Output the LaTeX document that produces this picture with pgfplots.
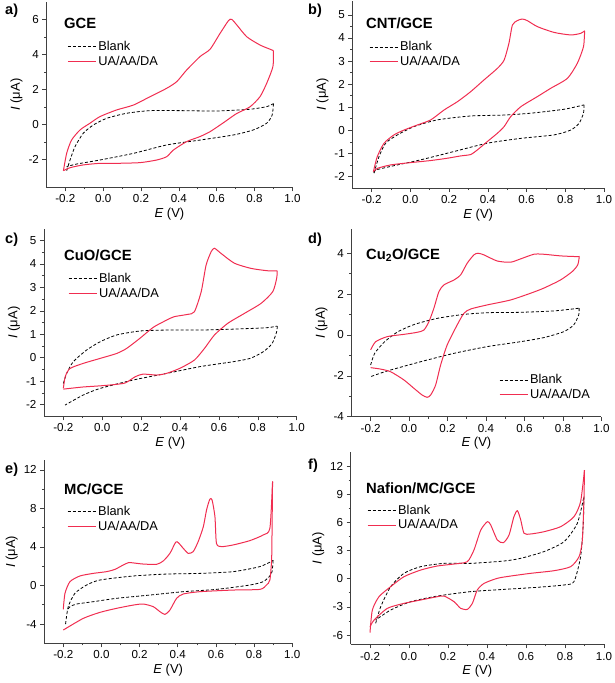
\documentclass[border=0pt]{standalone}
\usepackage{fontspec}
\setmainfont{Liberation Sans}
\usepackage{pgfplots}
\pgfplotsset{compat=1.18}
\definecolor{cvred}{RGB}{240,45,80}
\pgfplotsset{
  cv/.style={
    scale only axis, anchor=south west,
    axis lines=left, axis line style={-, black!75, line width=0.6pt},
    tick style={black!75, line width=0.6pt}, tick align=outside,
    major tick length=4pt, minor tick length=2pt,
    minor x tick num=1, minor y tick num=1,
    xmin=-0.3, xmax=1.0, xtick={-0.2,0,0.2,0.4,0.6,0.8,1.0},
    x tick label style={/pgf/number format/.cd, fixed, fixed zerofill, precision=1},
    /pgf/number format/assume math mode=true,
    ticklabel style={font=\fontsize{11.6}{13}\selectfont},
    xlabel={\textit{E} (V)}, ylabel={\textit{I} (μA)},
    label style={font=\fontsize{13}{15}\selectfont},
    xlabel style={yshift=2pt}, ylabel style={yshift=-1pt},
    legend style={draw=none, fill=none, anchor=north west, inner sep=0pt,
      font=\fontsize{12.8}{14}\selectfont, row sep=0pt},
    legend cell align=left,
    legend image code/.code={\draw[#1] (0pt,0pt) -- (28pt,0pt);},
  },
  blank/.style={black, line width=0.8pt, dash pattern=on 3pt off 2pt, smooth, tension=0.4},
  ua/.style={cvred, line width=1pt, smooth, tension=0.4},
}
\begin{document}
\begin{tikzpicture}
\useasboundingbox (0,0) rectangle (614pt,-683pt);

% a) GCE
\begin{axis}[cv, at={(46.4pt,-187.3pt)}, width=246pt, height=185.5pt,
  ymin=-3.6, ymax=7, ytick={-2,0,2,4,6},
  legend style={at={(0.084,0.80)}}]
\addplot[blank] coordinates {(-0.193,-2.65) (-0.175,-2.04) (-0.149,-1.28) (-0.105,-0.51) (-0.052,-0.04) (0.018,0.34) (0.124,0.63) (0.248,0.78) (0.424,0.78) (0.6,0.76) (0.776,0.86) (0.864,1.01) (0.9,1.18)};
\addlegendentry{Blank}
\addplot[ua] coordinates {(-0.21,-2.65) (-0.193,-1.66) (-0.167,-0.9) (-0.122,-0.32) (-0.07,0.06) (-0.017,0.44) (0.071,0.82) (0.16,1.10) (0.248,1.58) (0.336,2.06) (0.389,2.44) (0.441,3.1) (0.512,3.87) (0.565,4.29) (0.618,5.2) (0.662,5.92) (0.679,6.0) (0.706,5.68) (0.759,5.0) (0.829,4.53) (0.882,4.29) (0.9,4.21)};
\addlegendentry{UA/AA/DA}
\addplot[blank, forget plot] coordinates {(0.9,1.18) (0.893,0.53) (0.864,0.06) (0.794,-0.32) (0.688,-0.61) (0.512,-0.9) (0.336,-1.18) (0.16,-1.66) (-0.017,-2.04) (-0.14,-2.27) (-0.193,-2.42)};
\addplot[ua, forget plot] coordinates {(0.9,4.21) (0.897,3.3) (0.864,2.34) (0.829,1.58) (0.776,1.0) (0.706,0.62) (0.65,0.2) (0.618,-0.04) (0.565,-0.42) (0.512,-0.7) (0.441,-0.99) (0.371,-1.47) (0.336,-1.85) (0.283,-2.04) (0.195,-2.19) (0.071,-2.23) (-0.017,-2.23) (-0.105,-2.32) (-0.175,-2.48) (-0.21,-2.65)};
\end{axis}

% b) CNT/GCE
\begin{axis}[cv, at={(352.3pt,-188pt)}, width=251.7pt, height=187pt,
  ymin=-2.5, ymax=5.6, ytick={-2,-1,0,1,2,3,4,5},
  legend style={at={(0.066,0.795)}}]
\addplot[blank] coordinates {(-0.188,-1.86) (-0.162,-1.14) (-0.128,-0.56) (-0.067,-0.2) (0.019,0.16) (0.139,0.45) (0.311,0.62) (0.484,0.66) (0.621,0.74) (0.793,0.91) (0.897,1.1)};
\addlegendentry{Blank}
\addplot[ua] coordinates {(-0.191,-1.79) (-0.171,-1.14) (-0.136,-0.56) (-0.085,-0.2) (-0.033,0.01) (0.036,0.23) (0.105,0.45) (0.174,0.88) (0.243,1.24) (0.311,1.67) (0.38,2.18) (0.449,2.68) (0.484,3.04) (0.509,3.77) (0.527,4.56) (0.552,4.75) (0.578,4.82) (0.604,4.75) (0.656,4.49) (0.742,4.24) (0.828,4.13) (0.88,4.2) (0.9,4.31)};
\addlegendentry{UA/AA/DA}
\addplot[blank, forget plot] coordinates {(0.897,1.1) (0.894,0.74) (0.871,0.3) (0.828,0.01) (0.742,-0.2) (0.57,-0.35) (0.397,-0.56) (0.225,-0.92) (0.053,-1.28) (-0.067,-1.5) (-0.179,-1.72) (-0.188,-1.86)};
\addplot[ua, forget plot] coordinates {(0.9,4.31) (0.894,3.62) (0.862,2.9) (0.811,2.25) (0.725,1.82) (0.656,1.46) (0.57,1.02) (0.518,0.59) (0.484,0.16) (0.449,-0.13) (0.397,-0.49) (0.346,-0.85) (0.311,-1.05) (0.26,-1.11) (0.191,-1.21) (0.105,-1.31) (0.001,-1.4) (-0.102,-1.5) (-0.171,-1.65) (-0.191,-1.79)};
\end{axis}

% c) CuO/GCE
\begin{axis}[cv, at={(43.9pt,-416.3pt)}, width=252.8pt, height=187.5pt,
  ymin=-2.5, ymax=5.5, ytick={-2,-1,0,1,2,3,4,5},
  legend style={at={(0.095,0.775)}}]
\addplot[blank] coordinates {(-0.2,-1.1) (-0.183,-0.67) (-0.149,-0.17) (-0.08,0.33) (-0.011,0.68) (0.074,0.97) (0.194,1.14) (0.331,1.18) (0.503,1.18) (0.674,1.22) (0.846,1.28) (0.9,1.35)};
\addlegendentry{Blank}
\addplot[ua] coordinates {(-0.2,-1.31) (-0.19,-0.8) (-0.166,-0.46) (-0.097,-0.24) (-0.011,-0.03) (0.074,0.18) (0.126,0.4) (0.194,0.83) (0.263,1.3) (0.33,1.6) (0.37,1.75) (0.44,1.85) (0.474,1.96) (0.509,2.82) (0.534,3.95) (0.56,4.52) (0.577,4.67) (0.611,4.45) (0.68,4.03) (0.766,3.81) (0.851,3.71) (0.9,3.71)};
\addlegendentry{UA/AA/DA}
\addplot[blank, forget plot] coordinates {(0.9,1.35) (0.897,1.11) (0.874,0.61) (0.829,0.26) (0.76,-0.03) (0.674,-0.17) (0.503,-0.38) (0.331,-0.67) (0.16,-0.95) (-0.011,-1.31) (-0.097,-1.59) (-0.191,-2.02)};
\addplot[ua, forget plot] coordinates {(0.9,3.71) (0.897,3.39) (0.877,2.82) (0.817,2.32) (0.731,1.89) (0.646,1.47) (0.577,0.97) (0.526,0.4) (0.474,-0.1) (0.4,-0.45) (0.33,-0.67) (0.28,-0.74) (0.21,-0.7) (0.17,-0.81) (0.12,-1.07) (0.07,-1.14) (-0.01,-1.2) (-0.1,-1.25) (-0.2,-1.34)};
\end{axis}

% d) Cu2O/GCE
\begin{axis}[cv, at={(351.4pt,-416.7pt)}, width=250pt, height=188pt,
  ymin=-4, ymax=5.2, ytick={-4,-2,0,2,4},
  legend style={at={(0.59,0.236)}}]
\addplot[blank] coordinates {(-0.2,-1.47) (-0.179,-0.9) (-0.127,-0.33) (-0.058,0.16) (0.029,0.52) (0.15,0.82) (0.289,1.01) (0.41,1.09) (0.583,1.11) (0.757,1.18) (0.884,1.31)};
\addlegendentry{Blank}
\addplot[ua] coordinates {(-0.2,-0.73) (-0.174,-0.33) (-0.113,-0.08) (-0.027,0.03) (0.042,0.13) (0.077,0.24) (0.103,0.65) (0.129,1.31) (0.155,2.12) (0.181,2.45) (0.233,2.69) (0.268,2.94) (0.302,3.51) (0.337,3.92) (0.358,4.0) (0.389,3.92) (0.458,3.62) (0.527,3.56) (0.579,3.72) (0.649,3.95) (0.7,3.95) (0.787,3.87) (0.856,3.84) (0.885,3.84)};
\addlegendentry{UA/AA/DA}
\addplot[blank, forget plot] coordinates {(0.884,1.31) (0.882,0.98) (0.856,0.49) (0.804,0.16) (0.7,-0.13) (0.579,-0.33) (0.406,-0.57) (0.233,-0.9) (0.06,-1.31) (-0.113,-1.76) (-0.2,-2.04)};
\addplot[ua, forget plot] coordinates {(0.885,3.84) (0.877,3.43) (0.848,3.1) (0.787,2.69) (0.7,2.29) (0.631,2.04) (0.527,1.71) (0.406,1.47) (0.32,1.27) (0.285,1.06) (0.25,0.49) (0.198,-0.49) (0.164,-1.47) (0.138,-2.45) (0.112,-2.94) (0.094,-3.05) (0.068,-2.94) (0.025,-2.61) (-0.027,-2.2) (-0.096,-1.8) (-0.148,-1.67) (-0.2,-1.6)};
\end{axis}

% e) MC/GCE
\begin{axis}[cv, at={(44.2pt,-643.3pt)}, width=248pt, height=183pt,
  ymin=-6, ymax=13, ytick={-4,0,4,8,12},
  legend style={at={(0.092,0.762)}}]
\addplot[blank] coordinates {(-0.188,-4.0) (-0.174,-2.2) (-0.139,-0.81) (-0.078,0.05) (-0.008,0.57) (0.167,0.99) (0.341,1.19) (0.516,1.26) (0.691,1.44) (0.83,1.96) (0.9,2.6)};
\addlegendentry{Blank}
\addplot[ua] coordinates {(-0.2,-2.48) (-0.191,-0.81) (-0.165,0.4) (-0.113,0.99) (-0.043,1.26) (0.027,1.44) (0.071,1.68) (0.114,2.13) (0.141,2.37) (0.157,2.37) (0.219,2.23) (0.289,2.2) (0.324,2.55) (0.359,3.34) (0.389,4.49) (0.403,4.45) (0.429,3.86) (0.455,3.34) (0.481,3.52) (0.507,4.55) (0.534,6.1) (0.551,7.84) (0.568,8.95) (0.58,8.88) (0.595,7.15) (0.603,4.38) (0.629,4.04) (0.69,4.21) (0.778,4.66) (0.848,5.25) (0.883,5.94) (0.897,10.8)};
\addlegendentry{UA/AA/DA}
\addplot[blank, forget plot] coordinates {(0.9,2.6) (0.895,1.5) (0.883,1.0) (0.848,0.4) (0.778,0.05) (0.603,-0.4) (0.429,-0.64) (0.254,-0.99) (0.079,-1.33) (-0.043,-1.68) (-0.13,-1.92) (-0.165,-2.2) (-0.18,-2.6)};
\addplot[ua, forget plot] coordinates {(0.897,10.8) (0.894,5.0) (0.892,2.65) (0.883,0.57) (0.865,0.05) (0.831,-0.4) (0.69,-0.47) (0.516,-0.64) (0.429,-0.88) (0.394,-1.33) (0.359,-2.55) (0.333,-3.0) (0.307,-2.72) (0.272,-2.2) (0.219,-1.92) (0.167,-2.03) (0.079,-2.37) (-0.008,-2.79) (-0.095,-3.41) (-0.2,-4.62)};
\end{axis}

% f) Nafion/MC/GCE
\begin{axis}[cv, at={(350.5pt,-644.4pt)}, width=253.5pt, height=192.5pt,
  ymin=-7, ymax=13.5, ytick={-6,-3,0,3,6,9,12},
  legend style={at={(0.065,0.736)}}]
\addplot[blank] coordinates {(-0.171,-4.76) (-0.145,-2.98) (-0.094,-0.85) (-0.026,0.57) (0.06,1.28) (0.179,1.63) (0.316,1.63) (0.487,1.88) (0.573,2.17) (0.692,2.88) (0.795,3.94) (0.863,5.89) (0.897,8.73)};
\addlegendentry{Blank}
\addplot[ua] coordinates {(-0.2,-5.75) (-0.188,-3.34) (-0.154,-1.92) (-0.094,-0.85) (-0.026,0.21) (0.06,0.92) (0.145,1.35) (0.231,1.56) (0.299,1.81) (0.333,3.05) (0.368,5.18) (0.402,6.07) (0.419,5.72) (0.453,4.12) (0.484,3.83) (0.513,4.65) (0.538,6.6) (0.556,7.24) (0.573,6.25) (0.59,4.83) (0.624,4.76) (0.692,5.0) (0.778,5.54) (0.846,6.6) (0.88,8.2) (0.9,11.57)};
\addlegendentry{UA/AA/DA}
\addplot[blank, forget plot] coordinates {(0.897,8.73) (0.894,5.89) (0.88,2.34) (0.846,-0.32) (0.795,-0.67) (0.658,-0.92) (0.487,-1.14) (0.316,-1.38) (0.145,-1.85) (0.009,-2.45) (-0.094,-3.34) (-0.171,-4.4)};
\addplot[ua, forget plot] coordinates {(0.9,11.57) (0.897,8.38) (0.889,4.12) (0.872,2.34) (0.829,1.28) (0.744,0.85) (0.624,0.57) (0.521,0.28) (0.453,0.04) (0.385,-0.5) (0.35,-1.21) (0.325,-2.63) (0.299,-3.27) (0.265,-3.16) (0.231,-2.45) (0.18,-1.85) (0.145,-1.92) (0.06,-2.27) (-0.026,-2.63) (-0.111,-3.16) (-0.179,-4.4) (-0.2,-5.11)};
\end{axis}

% panel letters and titles
\begin{scope}[every node/.style={anchor=west, inner sep=0pt, font=\fontsize{14.5}{16}\selectfont\bfseries}]
\node at (5pt,-11pt) {a)};
\node at (308pt,-11pt) {b)};
\node at (5pt,-240pt) {c)};
\node at (308pt,-240pt) {d)};
\node at (5pt,-470pt) {e)};
\node at (308pt,-466pt) {f)};
\end{scope}
\begin{scope}[every node/.style={anchor=west, inner sep=0pt, font=\fontsize{14.8}{16}\selectfont\bfseries}]
\node at (64pt,-23pt) {GCE};
\node at (366pt,-23pt) {CNT/GCE};
\node at (64pt,-255pt) {CuO/GCE};
\node at (366pt,-255pt) {Cu\textsubscript{2}O/GCE};
\node at (64pt,-489pt) {MC/GCE};
\node at (366pt,-488pt) {Nafion/MC/GCE};
\end{scope}
\end{tikzpicture}
\end{document}
